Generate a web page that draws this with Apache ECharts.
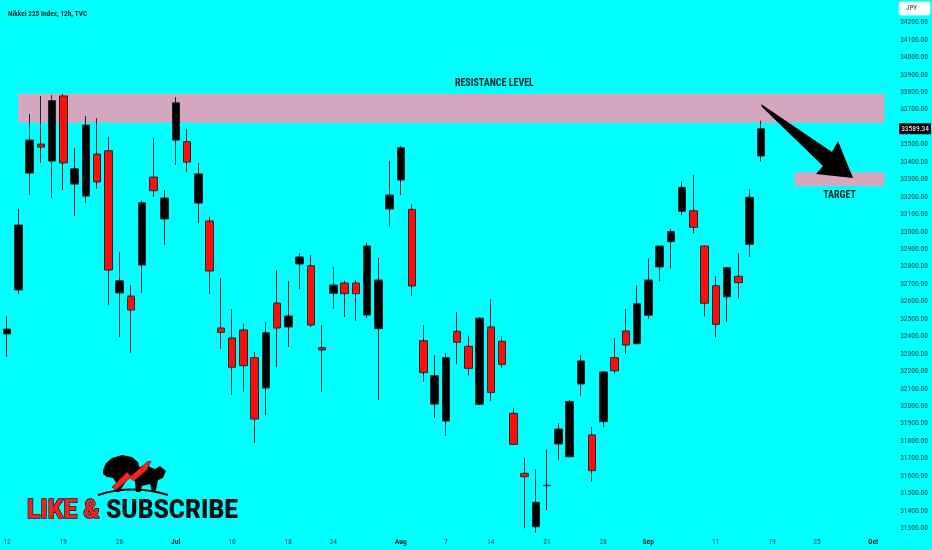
<!DOCTYPE html>
<html>
<head>
<meta charset="utf-8">
<script src="https://cdn.jsdelivr.net/npm/echarts@6/dist/echarts.min.js"></script>
<style>
html,body{margin:0;padding:0;background:#00ffff;}
#chart{width:932px;height:550px;}
</style>
</head>
<body>
<div id="chart"></div>
<script>
// ---- data ----
const categories = [
 '2023-06-12','2023-06-13','2023-06-14','2023-06-15','2023-06-16','2023-06-19','2023-06-20','2023-06-21','2023-06-22','2023-06-23',
 '2023-06-26','2023-06-27','2023-06-28','2023-06-29','2023-06-30',
 '2023-07-03','2023-07-04','2023-07-05','2023-07-06','2023-07-07','2023-07-10','2023-07-11','2023-07-12','2023-07-13','2023-07-14',
 '2023-07-18','2023-07-19','2023-07-20','2023-07-21','2023-07-24','2023-07-25','2023-07-26','2023-07-27','2023-07-28','2023-07-31',
 '2023-08-01','2023-08-02','2023-08-03','2023-08-04','2023-08-07','2023-08-08','2023-08-09','2023-08-10','2023-08-14','2023-08-15',
 '2023-08-16','2023-08-17','2023-08-18','2023-08-21','2023-08-22','2023-08-23','2023-08-24','2023-08-25','2023-08-28','2023-08-29',
 '2023-08-30','2023-08-31','2023-09-01','2023-09-04','2023-09-05','2023-09-06','2023-09-07','2023-09-08','2023-09-11','2023-09-12',
 '2023-09-13','2023-09-14','2023-09-15','2023-09-19','2023-09-20','2023-09-21','2023-09-22','2023-09-25','2023-09-26','2023-09-27',
 '2023-09-28','2023-09-29','2023-10-02','2023-10-03'
];
const opens = [32414,32666,33336,33502,33405,33778,33273,33204,33445,33464,
 32649,32631,32809,33313,33073,33525,33516,33164,33061,32448,
 32391,32437,32278,32104,32591,32454,32815,32805,32335,32647,
 32706,32706,32522,32444,33130,33296,33128,32375,32012,31915,
 32429,32343,32011,32454,32372,31959,31615,31309,31544,31783,
 31710,32127,31835,31911,32278,32431,32358,32521,32798,32943,
 33117,33120,32918,32690,32627,32744,32928,33434];
const closes = [32442,33038,33525,33485,33751,33394,33361,33611,33285,32780,
 32719,32551,33166,33235,33193,33739,33399,33331,32775,32423,
 32223,32232,31926,32421,32448,32517,32855,32465,32322,32694,
 32645,32645,32918,32723,33210,33481,32689,32192,32175,32278,
 32366,32217,32504,32079,32240,31781,31596,31449,31547,31869,
 32026,32259,31630,32196,32203,32351,32587,32723,32918,33001,
 33254,33025,32590,32469,32794,32708,33197,33589.34];
const lows = [32282,32643,33210,33394,33193,33239,33090,33164,33245,32580,
 32396,32306,32649,33199,32924,33382,33342,33050,32643,32328,
 32064,32083,31789,31949,32224,32339,32671,32454,32081,32557,
 32511,32490,32505,32035,33029,33210,32631,32140,31932,31829,
 32240,32175,32005,32030,32217,31778,31300,31275,31405,31691,
 31708,32060,31567,31879,32188,32299,32355,32501,32717,32789,
 33094,32991,32514,32395,32484,32618,32857,33401];
const highs = [32517,33130,33674,33778,33783,33790,33480,33663,33651,33544,
 32884,32694,33178,33537,33239,33772,33588,33394,33086,32735,
 32557,32471,32310,32484,32780,32717,32878,32866,32465,32798,
 32719,32723,32937,32849,33407,33491,33159,32465,32293,32305,
 32540,32404,32510,32614,32402,31991,31703,31638,31752,31902,
 32035,32293,31882,32200,32389,32557,32694,32847,32920,33015,
 33289,33325,32920,32746,32796,32876,33246,33636];
const tickDates = ['2023-06-12','2023-06-19','2023-06-26','2023-07-03','2023-07-10','2023-07-18','2023-07-24','2023-08-01','2023-08-07',
 '2023-08-14','2023-08-21','2023-08-28','2023-09-01','2023-09-11','2023-09-19','2023-09-25','2023-10-02'];
const tickTexts = ['12','19','26','Jul','10','18','24','Aug','7','14','21','28','Sep','11','19','25','Oct'];
const yTicks = [31300,31400,31500,31600,31700,31800,31900,32000,32100,32200,32300,32400,32500,32600,32700,32800,32900,
 33000,33100,33200,33300,33400,33500,33700,33800,33900,34000,34100,34200];
const lastPrice = 33589.34;
const resistanceZone = ['2023-06-13', 33625, '2023-10-03', 33790];
const targetZone = ['2023-09-21', 33262, '2023-10-03', 33340];

// ---- chart ----
const FONT = '"Liberation Sans Narrow", "Roboto Condensed", "DejaVu Sans Condensed", Roboto, sans-serif';
const candleData = opens.map((o, i) => [o, closes[i], lows[i], highs[i]]);
const chart = echarts.init(document.getElementById('chart'), null, {renderer: 'canvas'});

function measure(txt, font) {
  const c = document.createElement('canvas').getContext('2d');
  c.font = font; return c.measureText(txt).width;
}
const logoFont = '900 27px Roboto, "DejaVu Sans", sans-serif';
const logoW = measure('LIKE & SUBSCRIBE', logoFont);
const logoScale = 211 / logoW;

const option = {
  backgroundColor: '#00ffff',
  animation: false,
  title: {
    text: 'Nikkei 225 Index, 12h, TVC', left: 3, top: 6,
    textStyle: {fontSize: 7.3, fontWeight: 'bold', color: '#132828', fontFamily: FONT}
  },
  grid: {left: 1.375, right: 41.875, top: 0, bottom: 17},
  xAxis: {
    type: 'category', data: categories, boundaryGap: true,
    axisLine: {show: false}, axisTick: {show: false}, splitLine: {show: false},
    axisLabel: {
      interval: (idx, val) => tickDates.includes(val),
      formatter: (val) => {
        const k = tickDates.indexOf(val); const t = tickTexts[k];
        return /^[A-Z]/.test(t) ? '{m|' + t + '}' : t;
      },
      fontSize: 7.5, color: '#2a4545', margin: 5, fontFamily: FONT,
      rich: {m: {fontSize: 7.5, fontWeight: 'bold', color: '#102020', fontFamily: FONT}}
    }
  },
  yAxis: {
    type: 'value', position: 'right', min: 31273, max: 34328, scale: true,
    splitLine: {show: false}, axisLine: {show: false}, axisTick: {show: false},
    axisLabel: {
      customValues: yTicks, formatter: (v) => v.toFixed(2),
      fontSize: 7.5, color: '#1f3a3a', margin: 10, fontFamily: FONT
    }
  },
  series: [
    {
      type: 'line', data: [], z: 1, silent: true,
      markArea: {
        silent: true,
        itemStyle: {color: '#d5a7bf', opacity: 1},
        data: [
          [{xAxis: resistanceZone[0], yAxis: resistanceZone[1],
            label: {show: true, position: 'top', distance: 5, offset: [43, 0], formatter: 'RESISTANCE LEVEL',
              fontSize: 10, fontWeight: 'bold', color: '#102020', fontFamily: FONT}},
           {xAxis: resistanceZone[2], yAxis: resistanceZone[3]}],
          [{xAxis: targetZone[0], yAxis: targetZone[1],
            label: {show: true, position: 'bottom', distance: 5, formatter: 'TARGET',
              fontSize: 10, fontWeight: 'bold', color: '#102020', fontFamily: FONT}},
           {xAxis: targetZone[2], yAxis: targetZone[3]}]
        ]
      }
    },
    {
      type: 'candlestick', data: candleData, z: 3, barWidth: 8,
      itemStyle: {color: '#000000', color0: '#ff0d0d', borderColor: '#0e2a2a', borderColor0: '#1e2a2a', borderWidth: 1},
      markLine: {
        silent: true, symbol: 'none',
        lineStyle: {color: 'rgba(0,0,0,0)', width: 0, type: 'solid'},
        data: [{yAxis: lastPrice}],
        label: {show: true, position: 'end', distance: 9, formatter: () => lastPrice.toFixed(2),
          backgroundColor: '#000', color: '#fff', padding: [2, 2, 1, 2], fontSize: 7.5, fontFamily: FONT}
      }
    }
  ],
  graphic: [
    {type: 'rect', shape: {x: 899, y: 2, width: 31, height: 13, r: 2}, style: {fill: '#fff', stroke: '#cfe'}, z: 10},
    {type: 'text', x: 906, y: 5, style: {text: 'JPY', fontSize: 7, fill: '#333', fontFamily: FONT}, z: 11},
    // arrow annotation
    {type: 'polygon', z: 20, shape: {points: [[761,104],[832,152],[838,141],[853,178],[816,174],[823,166],[762,107]]},
      style: {fill: '#000'}},
    // logo arc
    {type: 'bezierCurve', z: 20, shape: {x1: 98, y1: 495, x2: 168, y2: 495, cpx1: 132, cpy1: 484}, style: {stroke: '#000', lineWidth: 2, fill: null}},
    // bear
    {type: 'polygon', z: 20, shape: {points: [[103,470],[106,463],[112,458],[122,455],[132,457],[138,462],[140,470],[135,476],[128,478],[123,486],[119,492],[115,492],[117,484],[113,478],[107,477],[103,474]]},
      style: {fill: '#000'}},
    // bull
    {type: 'polygon', z: 20, shape: {points: [[133,470],[145,465],[155,469],[160,466],[166,471],[163,478],[158,480],[156,490],[152,492],[150,484],[142,486],[140,492],[136,492],[135,482]]},
      style: {fill: '#000'}},
    // red swoosh
    {type: 'polygon', z: 21, shape: {points: [[112,487],[127,472],[131,476],[147,462],[151,461],[147,470],[134,481],[130,478],[116,490]]},
      style: {fill: '#ff2020', stroke: '#3a0000', lineWidth: 0.5}},
    // logo text
    {type: 'text', z: 22, x: 27, y: 499, scaleX: logoScale, scaleY: 0.95,
      style: {
        text: '{a|LIKE &} {b|SUBSCRIBE}',
        rich: {
          a: {font: logoFont, fill: '#ee2222', stroke: '#111', lineWidth: 1.4},
          b: {font: logoFont, fill: '#111111'}
        },
        font: logoFont,
        shadowColor: 'rgba(255,255,255,0.85)', shadowBlur: 8
      }}
  ]
};
chart.setOption(option);
</script>
</body>
</html>
